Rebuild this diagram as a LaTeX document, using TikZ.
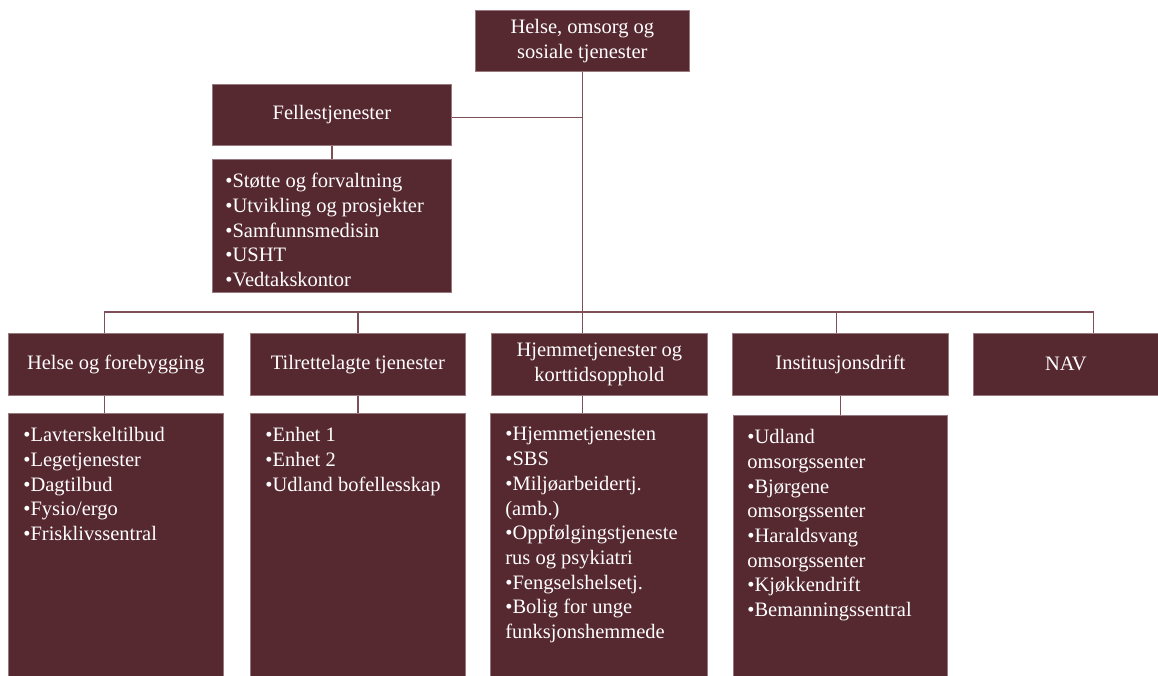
\documentclass[tikz,border=0pt]{standalone}
\usepackage{fontspec}
\setmainfont{Liberation Serif}
\definecolor{boxfill}{RGB}{86,40,47}
\definecolor{boxedge}{RGB}{150,120,126}
\definecolor{linkcol}{RGB}{125,80,88}

\tikzset{every picture/.style={line width=0.75pt}}
\tikzset{
  unit/.style={draw=boxedge, fill=boxfill, text=white, anchor=north west, inner sep=0pt,
    align=center, font=\fontsize{20.5}{24.7}\selectfont},
  listbox/.style={draw=boxedge, fill=boxfill, anchor=north west, inner sep=0pt},
  listtext/.style={text=white, anchor=north west, inner sep=0pt, align=left,
    font=\fontsize{20.5}{24.7}\selectfont},
  link/.style={draw=linkcol, line width=1.5}
}

\begin{document}
\begin{tikzpicture}[x=1pt,y=1pt,yscale=-1,xscale=1]
\useasboundingbox (0,0) rectangle (1158,675);

% top level
\node [unit, minimum width=214, minimum height=61] (top) at (475,10) {Helse, omsorg og\\sosiale tjenester};

% staff unit
\node [unit, minimum width=239, minimum height=61] (fell) at (212,84) {Fellestjenester};
\node [listbox, minimum width=239, minimum height=133] (fellL) at (212,159) {};
\node [listtext] (fellT) at ([shift={(13,14)}]fellL.north west) {•Støtte og forvaltning\\•Utvikling og prosjekter\\•Samfunnsmedisin\\•USHT\\•Vedtakskontor};

% service areas
\node [unit, minimum width=215, minimum height=62] (hf) at (8,333) {Helse og forebygging};
\node [unit, minimum width=215, minimum height=62] (tt) at (250,333) {Tilrettelagte tjenester};
\node [unit, minimum width=216, minimum height=62] (hj) at (491,333) {Hjemmetjenester og\\korttidsopphold};
\node [unit, minimum width=216, minimum height=62] (inst) at (732,333) {Institusjonsdrift};
\node [unit, minimum width=185, minimum height=62] (nav) at (973,333) {NAV};

% lists under the areas
\node [listbox, minimum width=215, minimum height=270] (hfL) at (8,413) {};
\node [listbox, minimum width=215, minimum height=270] (ttL) at (250,413) {};
\node [listbox, minimum width=217, minimum height=270] (hjL) at (490,413) {};
\node [listbox, minimum width=214, minimum height=268] (instL) at (733,415) {};

\node [listtext] (hfT) at ([shift={(15,14)}]hfL.north west) {•Lavterskeltilbud\\•Legetjenester\\•Dagtilbud\\•Fysio/ergo\\•Frisklivssentral};
\node [listtext] (ttT) at ([shift={(15,14)}]ttL.north west) {•Enhet 1\\•Enhet 2\\•Udland bofellesskap};
\node [listtext] (hjT) at ([shift={(15,14)}]hjL.north west) {•Hjemmetjenesten\\•SBS\\•Miljøarbeidertj.\\(amb.)\\•Oppfølgingstjeneste\\rus og psykiatri\\•Fengselshelsetj.\\•Bolig for unge\\funksjonshemmede};
\node [listtext] (instT) at ([shift={(14,14)}]instL.north west) {•Udland\\omsorgssenter\\•Bjørgene\\omsorgssenter\\•Haraldsvang\\omsorgssenter\\•Kjøkkendrift\\•Bemanningssentral};

% connectors
\coordinate (bus) at (582,312);
\draw [link] (top.south) -- (hj.north -| top.south);
\draw [link] ([yshift=2.5]fell.east) -- ([yshift=2.5]fell.east -| top.south);
\draw [link] (fell.south) -- (fellL.north);
\draw [link] ([xshift=-11.5]hf.north) |- (bus) -| ([xshift=27.5]nav.north);
\draw [link] (tt.north) -- (tt.north |- bus);
\draw [link] ([xshift=-4]inst.north) -- ([xshift=-4]inst.north |- bus);

\draw [link] ([xshift=-11.5]hf.south) -- ([xshift=-11.5]hfL.north);
\draw [link] (tt.south) -- (ttL.north);
\draw [link] (hj.south -| top.south) -- (hjL.north -| top.south);
\draw [link] (inst.south) -- (instL.north);

\end{tikzpicture}
\end{document}
